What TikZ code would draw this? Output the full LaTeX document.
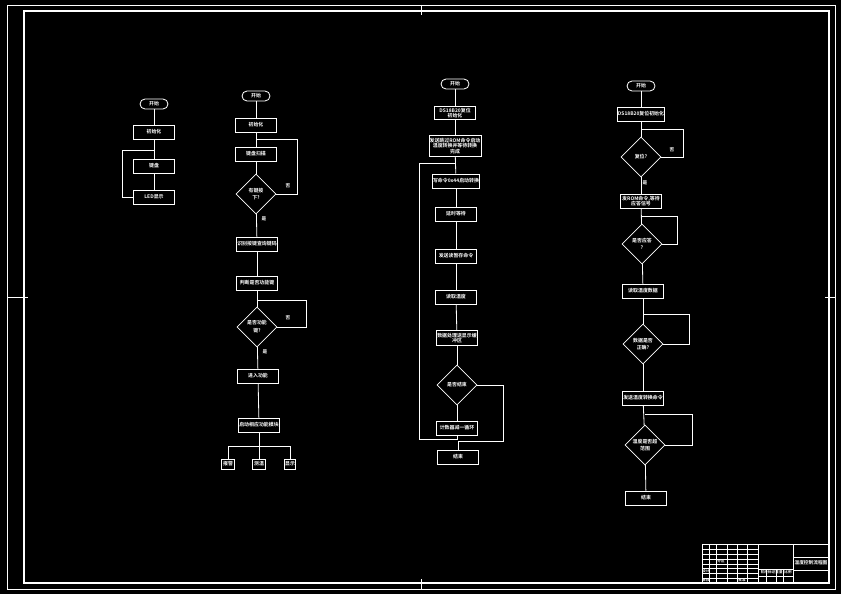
\documentclass[tikz,border=0pt]{standalone}
\usepackage{fontspec}
\newfontfamily\cjk{Noto Sans CJK SC Bold}
\usepackage{tikz}
\usetikzlibrary{
	shapes.geometric,
	positioning
}

\tikzset{
	flow/.style={white, line width=0.7pt},
	txt/.style={text=white, font=\cjk\fontsize{4.2}{4.6}\selectfont, align=center},
	box/.style={txt, draw=white, line width=0.7pt, fill=black, minimum width=1.23cm, minimum height=0.42cm, inner sep=0.5pt},
	dec/.style={txt, diamond, aspect=1, draw=white, line width=0.6pt, fill=black, minimum width=1.2cm, minimum height=1.2cm, inner sep=0pt},
	term/.style={txt, draw=white, line width=0.7pt, fill=black, rounded corners=0.15cm, minimum width=0.84cm, minimum height=0.3cm, inner sep=0pt},
	lbl/.style={text=white, font=\cjk\fontsize{4}{4.4}\selectfont}
}

\begin{document}
\begin{tikzpicture}[x=0.03cm, y=-0.03cm]
		\fill[black] (0,0) rectangle (841,594);
		\useasboundingbox (0,0) rectangle (841,594);
		% frames
		\draw[flow] (7,5) rectangle (835,589);
		\draw[flow, line width=0.9pt] (24,11) rectangle (829,583);
		\draw[flow] (421,5) -- (421,15);
		\draw[flow] (421,579) -- (421,589);
		\draw[flow] (7,297) -- (28,297);
		\draw[flow] (825,297) -- (835,297);
		
		% chart 1
		\node[term] (s1) at (154,104) {开始};
		\node[box] (a1) at (154,132) {初始化};
		\node[box] (a2) at (154,166) {键盘};
		\node[box] (a3) at (154,197) {LED显示};
		\coordinate (j1) at (154,150);
		\draw[flow] (s1) -- (a1);
		\draw[flow] (a1) -- (a2);
		\draw[flow] (a2) -- (a3);
		\draw[flow] (a3.west) -- ++(-11,0) |- (j1);
		
		% chart 2
		\node[term] (s2) at (256,96) {开始};
		\node[box] (b1) at (256,125) {初始化};
		\node[box] (b2) at (256,154) {键盘扫描};
		\node[dec] (d1) at (256,194) {有键按\\[2pt]下?};
		\node[box] (b3) at (257,244) {识别按键查询键码};
		\node[box] (b4) at (257,283) {判断是否功能键};
		\node[dec] (d2) at (257,327) {是否功能\\[2pt]键?};
		\node[box] (b5) at (258,376) {进入功能};
		\node[box] (b6) at (259,425) {启动相应功能模块};
		\node[box, minimum width=0.39cm, minimum height=0.3cm] (c1) at (228,464) {报警};
		\node[box, minimum width=0.39cm, minimum height=0.3cm] (c2) at (259,464) {测温};
		\node[box, minimum width=0.33cm, minimum height=0.3cm] (c3) at (290,464) {显示};
		\coordinate (j2) at (256,139);
		\coordinate (j3) at (257,300);
		\coordinate (j4) at (259,446);
		\draw[flow] (s2) -- (b1);
		\draw[flow] (b1) -- (b2);
		\draw[flow] (b2) -- (d1);
		\draw[flow] (d1) -- (b3);
		\draw[flow] (b3) -- (b4);
		\draw[flow] (b4) -- (d2);
		\draw[flow] (d2) -- (b5);
		\draw[flow] (b5) -- (b6);
		\draw[flow] (j2) -- ++(41,0) |- (d1.east);
		\draw[flow] (j3) -- ++(49,0) |- (d2.east);
		\draw[flow] (b6) -- (j4);
		\draw[flow] (j4) -| (c1);
		\draw[flow] (j4) -- (c2);
		\draw[flow] (j4) -| (c3);
		\node[lbl] at (288,186) {否};
		\node[lbl] at (264,219) {是};
		\node[lbl] at (288,318) {否};
		\node[lbl] at (265,352) {是};
		
		% chart 3
		\node[term] (s3) at (455,84) {开始};
		\node[box, minimum height=0.39cm] (e1) at (455,113) {DS18B20复位\\初始化};
		\node[box, minimum width=1.41cm, minimum height=0.63cm] (e2) at (455,146) {发送跳过ROM命令启动\\温度转换并等待转换\\完成};
		\node[box] (e3) at (456,181) {写命令0x44启动转换};
		\node[box] (e4) at (456,214) {延时等待};
		\node[box] (e5) at (456,256) {发送读暂存命令};
		\node[box] (e6) at (456,297) {读取温度};
		\node[box, minimum height=0.45cm] (e7) at (457,338) {数据处理送显示缓\\冲区};
		\node[dec] (d3) at (457,385) {是否结束};
		\node[box] (e8) at (457,428) {计数器减一循环};
		\node[box] (e9) at (458,457) {结束};
		\coordinate (j5) at (455,163);
		\coordinate (j6) at (458,441);
		\draw[flow] (s3) -- (e1);
		\draw[flow] (e1) -- (e2);
		\draw[flow] (e2) -- (e3);
		\draw[flow] (e3) -- (e4);
		\draw[flow] (e4) -- (e5);
		\draw[flow] (e5) -- (e6);
		\draw[flow] (e6) -- (e7);
		\draw[flow] (e7) -- (d3);
		\draw[flow] (d3) -- (e8);
		\draw[flow] (e8.south) |- ++(-38,4) |- (j5);
		\draw[flow] (d3.east) -- ++(26,0) |- (j6);
		\draw[flow] (j6) -- (e9);
		
		% chart 4
		\node[term] (s4) at (641,86) {开始};
		\node[box] (f1) at (641,114) {DS18B20复位初始化};
		\node[dec] (d4) at (641,157) {复位?};
		\node[box, minimum height=0.42cm] (f2) at (641,201) {发ROM命令,等待\\应答信号};
		\node[dec] (d5) at (642,244) {是否应答\\[2pt]?};
		\node[box] (f3) at (643,291) {读取温度数据};
		\node[dec] (d6) at (643,344) {数据是否\\[2pt]正确?};
		\node[box] (f4) at (643,398) {发送温度转换命令};
		\node[dec] (d7) at (645,445) {温度是否超\\[2pt]范围};
		\node[box] (f5) at (646,498) {结束};
		\coordinate (j7) at (641,129);
		\coordinate (j8) at (642,216);
		\coordinate (j9) at (643,314);
		\coordinate (j10) at (645,414);
		\draw[flow] (s4) -- (f1);
		\draw[flow] (f1) -- (d4);
		\draw[flow] (d4) -- (f2);
		\draw[flow] (f2) -- (d5);
		\draw[flow] (d5) -- (f3);
		\draw[flow] (f3) -- (d6);
		\draw[flow] (d6) -- (f4);
		\draw[flow] (f4) -- (d7);
		\draw[flow] (d7) -- (f5);
		\draw[flow] (j7) -- ++(42,0) |- (d4.east);
		\draw[flow] (j8) -- ++(35,0) |- (d5.east);
		\draw[flow] (j9) -- ++(46,0) |- (d6.east);
		\draw[flow] (j10) -- ++(47,0) |- (d7.east);
		\node[lbl] at (672,150) {否};
		\node[lbl] at (645,183) {是};
		
		% title block
		\draw[flow] (702,544) rectangle (829,583);
		\foreach \y in {549,554,559,564,568,573,578}
			\draw[white, line width=0.5pt] (702,\y) -- (758,\y);
		\foreach \x in {709,716,727,737,747}
			\draw[white, line width=0.5pt] (\x,544) -- (\x,583);
		\draw[flow] (758,544) -- (758,583);
		\draw[flow] (793,544) -- (793,583);
		\draw[white, line width=0.5pt] (758,569) -- (793,569);
		\draw[white, line width=0.5pt] (758,576) -- (793,576);
		\foreach \x in {766,776,783}
			\draw[white, line width=0.5pt] (\x,569) -- (\x,583);
		\draw[white, line width=0.5pt] (793,557) -- (829,557);
		\draw[white, line width=0.5pt] (793,570) -- (829,570);
		\node[lbl] (t1) at (811,563) {温度控制流程图};
		\node[lbl, font=\cjk\fontsize{3}{3}\selectfont] (t2) at (768,572.5) {阶段标记};
		\node[lbl, font=\cjk\fontsize{3}{3}\selectfont] (t3) at (779,572.5) {重量};
		\node[lbl, font=\cjk\fontsize{3}{3}\selectfont] (t4) at (788,572.5) {比例};
		\node[lbl, font=\cjk\fontsize{3}{3}\selectfont] (t5) at (706,571) {设计};
		\node[lbl, font=\cjk\fontsize{3}{3}\selectfont] (t6) at (706,580.5) {审核};
		\node[lbl, font=\cjk\fontsize{3}{3}\selectfont] (t7) at (721,561.5) {分区};
		\node[lbl, font=\cjk\fontsize{3}{3}\selectfont] (t8) at (742,580.5) {批准};
	\end{tikzpicture}
\end{document}
